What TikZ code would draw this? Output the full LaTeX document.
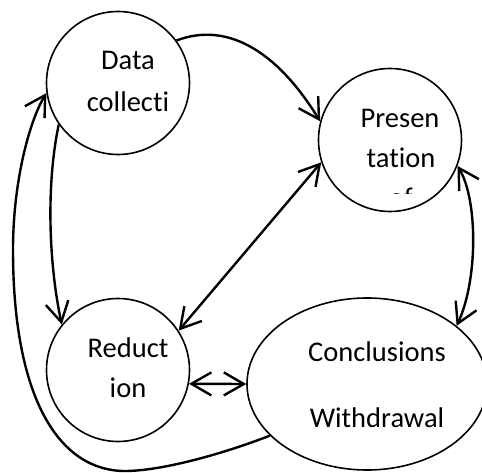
\documentclass[tikz,border=0pt]{standalone}
\usepackage{fontspec}
\setmainfont{Carlito}[Ligatures={NoCommon},RawFeature={-liga}]
\usetikzlibrary{arrows.meta,shapes.geometric}
\begin{document}
\begin{tikzpicture}[x=1pt,y=-1pt,
  bub/.style={draw,circle,line width=1.6pt,minimum size=143pt,inner sep=0pt},
  oval/.style={draw,ellipse,line width=1.6pt,minimum width=240pt,minimum height=172pt,inner sep=0pt},
  lbl/.style={anchor=base,inner sep=0pt,font=\fontsize{28.5}{34}\selectfont},
  conn/.style={line width=2.4pt,-{Straight Barb[length=20pt,width=23pt]}},
  conn2/.style={line width=2.4pt,{Straight Barb[length=20pt,width=23pt]}-{Straight Barb[length=20pt,width=23pt]}}]
\useasboundingbox (0,0) rectangle (482,473);
\node[bub] (d) at (118,83) {};
\node[bub] (p) at (390,140) {};
\node[bub] (r) at (118,370) {};
\node[oval] (c) at (367,384) {};
\node[lbl] (d1) at (128,70) {Data};
\node[lbl] (d2) at (128,112) {collecti};
\node[lbl] (p1) at (400,128) {Presen};
\node[lbl] (p2) at (401,168) {tation};
\begin{scope}
  \clip (380,180) rectangle (420,194);
  \node[lbl] (p3) at (401,208) {of};
\end{scope}
\node[lbl] (r1) at (128,357) {Reduct};
\node[lbl] (r2) at (128,397) {ion};
\node[lbl] (c1) at (377,361) {Conclusions};
\node[lbl] (c2) at (377,427) {Withdrawal};
% connectors
\draw[conn] (d.36) .. controls (225,22) and (275,48) .. (p.165);
\draw[conn] (d.215) .. controls (45,190) and (50,270) .. (r.141);
\draw[conn2] (r.33) -- (p.198);
\draw[conn2] (p.-21) .. controls (478,200) and (478,280) .. (c.33);
\draw[conn2] (r.-11) -- (c.west);
\coordinate (b1) at (125,471);
\coordinate (b2) at (13,250);
\draw[conn] (c.208) .. controls (220,455) and (160,471) .. (b1)
  .. controls (60,471) and (13,400) .. (b2)
  .. controls (13,180) and (30,120) .. (d.188);
\end{tikzpicture}
\end{document}
